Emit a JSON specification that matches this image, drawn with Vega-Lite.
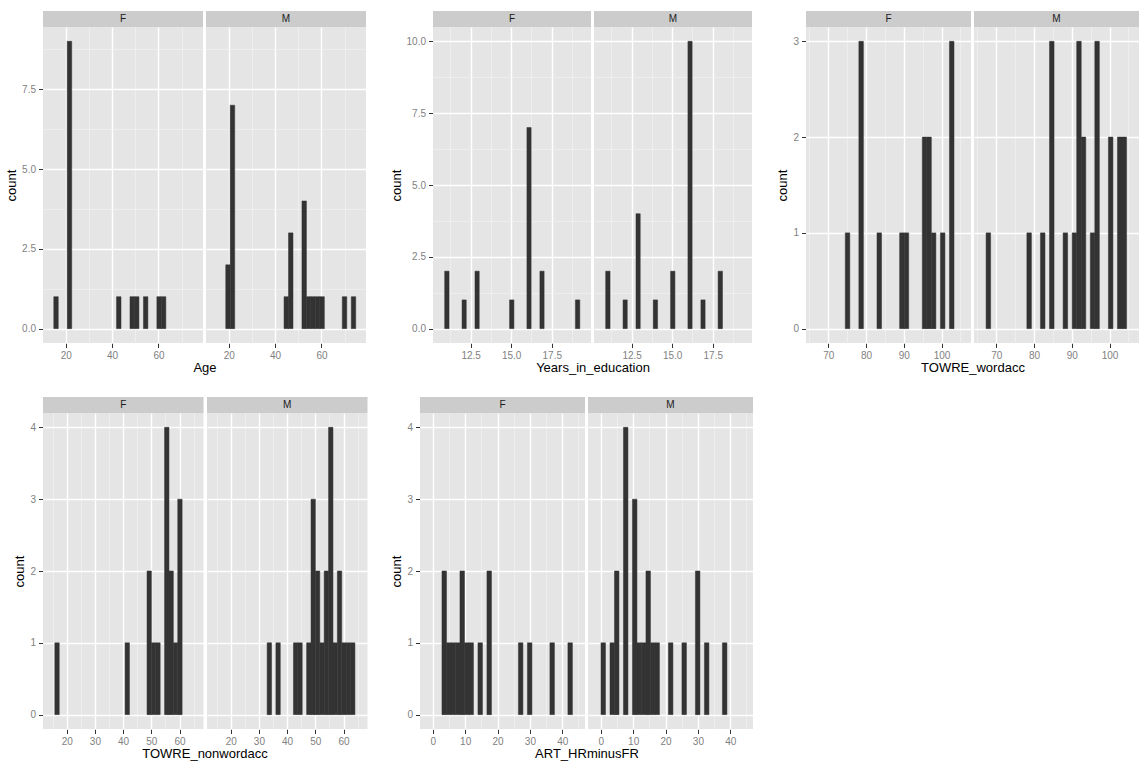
{
"$schema": "https://vega.github.io/schema/vega-lite/v6.json",
"padding": {"left": 5, "top": 11, "right": 0, "bottom": 0},
"background": "#FFFFFF",
"datasets": {
"strips": [{"sex": "F"}, {"sex": "M"}],
"bars": [
{"v":"Age","sex":"F","start":14.85,"end":16.78,"count":1},
{"v":"Age","sex":"F","start":20.65,"end":22.58,"count":9},
{"v":"Age","sex":"F","start":41.91,"end":43.85,"count":1},
{"v":"Age","sex":"F","start":47.71,"end":49.64,"count":1},
{"v":"Age","sex":"F","start":49.64,"end":51.58,"count":1},
{"v":"Age","sex":"F","start":53.51,"end":55.44,"count":1},
{"v":"Age","sex":"F","start":59.31,"end":61.24,"count":1},
{"v":"Age","sex":"F","start":61.24,"end":63.18,"count":1},
{"v":"Age","sex":"M","start":18.72,"end":20.65,"count":2},
{"v":"Age","sex":"M","start":20.65,"end":22.58,"count":7},
{"v":"Age","sex":"M","start":43.85,"end":45.78,"count":1},
{"v":"Age","sex":"M","start":45.78,"end":47.71,"count":3},
{"v":"Age","sex":"M","start":51.58,"end":53.51,"count":4},
{"v":"Age","sex":"M","start":53.51,"end":55.44,"count":1},
{"v":"Age","sex":"M","start":55.44,"end":57.38,"count":1},
{"v":"Age","sex":"M","start":57.38,"end":59.31,"count":1},
{"v":"Age","sex":"M","start":59.31,"end":61.24,"count":1},
{"v":"Age","sex":"M","start":68.97,"end":70.91,"count":1},
{"v":"Age","sex":"M","start":72.84,"end":74.77,"count":1},
{"v":"Years_in_education","sex":"F","start":10.9,"end":11.17,"count":2},
{"v":"Years_in_education","sex":"F","start":11.97,"end":12.23,"count":1},
{"v":"Years_in_education","sex":"F","start":12.77,"end":13.03,"count":2},
{"v":"Years_in_education","sex":"F","start":14.9,"end":15.17,"count":1},
{"v":"Years_in_education","sex":"F","start":15.97,"end":16.23,"count":7},
{"v":"Years_in_education","sex":"F","start":16.77,"end":17.03,"count":2},
{"v":"Years_in_education","sex":"F","start":18.96,"end":19.23,"count":1},
{"v":"Years_in_education","sex":"M","start":10.9,"end":11.17,"count":2},
{"v":"Years_in_education","sex":"M","start":11.97,"end":12.23,"count":1},
{"v":"Years_in_education","sex":"M","start":12.77,"end":13.03,"count":4},
{"v":"Years_in_education","sex":"M","start":13.83,"end":14.1,"count":1},
{"v":"Years_in_education","sex":"M","start":14.9,"end":15.17,"count":2},
{"v":"Years_in_education","sex":"M","start":15.97,"end":16.23,"count":10},
{"v":"Years_in_education","sex":"M","start":16.77,"end":17.03,"count":1},
{"v":"Years_in_education","sex":"M","start":17.83,"end":18.1,"count":2},
{"v":"TOWRE_wordacc","sex":"F","start":74.5,"end":75.7,"count":1},
{"v":"TOWRE_wordacc","sex":"F","start":78.1,"end":79.3,"count":3},
{"v":"TOWRE_wordacc","sex":"F","start":82.9,"end":84.1,"count":1},
{"v":"TOWRE_wordacc","sex":"F","start":88.9,"end":90.1,"count":1},
{"v":"TOWRE_wordacc","sex":"F","start":90.1,"end":91.3,"count":1},
{"v":"TOWRE_wordacc","sex":"F","start":94.9,"end":96.1,"count":2},
{"v":"TOWRE_wordacc","sex":"F","start":96.1,"end":97.3,"count":2},
{"v":"TOWRE_wordacc","sex":"F","start":97.3,"end":98.5,"count":1},
{"v":"TOWRE_wordacc","sex":"F","start":99.7,"end":100.9,"count":1},
{"v":"TOWRE_wordacc","sex":"F","start":102.1,"end":103.3,"count":3},
{"v":"TOWRE_wordacc","sex":"M","start":67.3,"end":68.5,"count":1},
{"v":"TOWRE_wordacc","sex":"M","start":78.1,"end":79.3,"count":1},
{"v":"TOWRE_wordacc","sex":"M","start":81.7,"end":82.9,"count":1},
{"v":"TOWRE_wordacc","sex":"M","start":84.1,"end":85.3,"count":3},
{"v":"TOWRE_wordacc","sex":"M","start":87.7,"end":88.9,"count":1},
{"v":"TOWRE_wordacc","sex":"M","start":90.1,"end":91.3,"count":1},
{"v":"TOWRE_wordacc","sex":"M","start":91.3,"end":92.5,"count":3},
{"v":"TOWRE_wordacc","sex":"M","start":92.5,"end":93.7,"count":2},
{"v":"TOWRE_wordacc","sex":"M","start":94.9,"end":96.1,"count":1},
{"v":"TOWRE_wordacc","sex":"M","start":96.1,"end":97.3,"count":3},
{"v":"TOWRE_wordacc","sex":"M","start":99.7,"end":100.9,"count":2},
{"v":"TOWRE_wordacc","sex":"M","start":102.1,"end":103.3,"count":2},
{"v":"TOWRE_wordacc","sex":"M","start":103.3,"end":104.5,"count":2},
{"v":"TOWRE_nonwordacc","sex":"F","start":15.8,"end":17.36,"count":1},
{"v":"TOWRE_nonwordacc","sex":"F","start":40.7,"end":42.25,"count":1},
{"v":"TOWRE_nonwordacc","sex":"F","start":48.48,"end":50.03,"count":2},
{"v":"TOWRE_nonwordacc","sex":"F","start":50.03,"end":51.59,"count":1},
{"v":"TOWRE_nonwordacc","sex":"F","start":51.59,"end":53.14,"count":1},
{"v":"TOWRE_nonwordacc","sex":"F","start":54.7,"end":56.26,"count":4},
{"v":"TOWRE_nonwordacc","sex":"F","start":56.26,"end":57.81,"count":2},
{"v":"TOWRE_nonwordacc","sex":"F","start":57.81,"end":59.37,"count":1},
{"v":"TOWRE_nonwordacc","sex":"F","start":59.37,"end":60.92,"count":3},
{"v":"TOWRE_nonwordacc","sex":"M","start":32.92,"end":34.47,"count":1},
{"v":"TOWRE_nonwordacc","sex":"M","start":36.03,"end":37.58,"count":1},
{"v":"TOWRE_nonwordacc","sex":"M","start":42.25,"end":43.81,"count":1},
{"v":"TOWRE_nonwordacc","sex":"M","start":43.81,"end":45.36,"count":1},
{"v":"TOWRE_nonwordacc","sex":"M","start":46.92,"end":48.48,"count":1},
{"v":"TOWRE_nonwordacc","sex":"M","start":48.48,"end":50.03,"count":3},
{"v":"TOWRE_nonwordacc","sex":"M","start":50.03,"end":51.59,"count":2},
{"v":"TOWRE_nonwordacc","sex":"M","start":51.59,"end":53.14,"count":1},
{"v":"TOWRE_nonwordacc","sex":"M","start":53.14,"end":54.7,"count":2},
{"v":"TOWRE_nonwordacc","sex":"M","start":54.7,"end":56.26,"count":4},
{"v":"TOWRE_nonwordacc","sex":"M","start":56.26,"end":57.81,"count":1},
{"v":"TOWRE_nonwordacc","sex":"M","start":57.81,"end":59.37,"count":2},
{"v":"TOWRE_nonwordacc","sex":"M","start":59.37,"end":60.92,"count":1},
{"v":"TOWRE_nonwordacc","sex":"M","start":60.92,"end":62.48,"count":1},
{"v":"TOWRE_nonwordacc","sex":"M","start":62.48,"end":64.04,"count":1},
{"v":"ART_HRminusFR","sex":"F","start":2.83,"end":4.22,"count":2},
{"v":"ART_HRminusFR","sex":"F","start":4.22,"end":5.61,"count":1},
{"v":"ART_HRminusFR","sex":"F","start":5.61,"end":7.0,"count":1},
{"v":"ART_HRminusFR","sex":"F","start":7.0,"end":8.39,"count":1},
{"v":"ART_HRminusFR","sex":"F","start":8.39,"end":9.78,"count":2},
{"v":"ART_HRminusFR","sex":"F","start":9.78,"end":11.17,"count":1},
{"v":"ART_HRminusFR","sex":"F","start":11.17,"end":12.56,"count":1},
{"v":"ART_HRminusFR","sex":"F","start":13.95,"end":15.34,"count":1},
{"v":"ART_HRminusFR","sex":"F","start":16.73,"end":18.12,"count":2},
{"v":"ART_HRminusFR","sex":"F","start":26.46,"end":27.85,"count":1},
{"v":"ART_HRminusFR","sex":"F","start":29.24,"end":30.63,"count":1},
{"v":"ART_HRminusFR","sex":"F","start":36.19,"end":37.58,"count":1},
{"v":"ART_HRminusFR","sex":"F","start":41.75,"end":43.14,"count":1},
{"v":"ART_HRminusFR","sex":"M","start":0.05,"end":1.44,"count":1},
{"v":"ART_HRminusFR","sex":"M","start":2.83,"end":4.22,"count":1},
{"v":"ART_HRminusFR","sex":"M","start":4.22,"end":5.61,"count":2},
{"v":"ART_HRminusFR","sex":"M","start":7.0,"end":8.39,"count":4},
{"v":"ART_HRminusFR","sex":"M","start":9.78,"end":11.17,"count":3},
{"v":"ART_HRminusFR","sex":"M","start":11.17,"end":12.56,"count":1},
{"v":"ART_HRminusFR","sex":"M","start":12.56,"end":13.95,"count":1},
{"v":"ART_HRminusFR","sex":"M","start":13.95,"end":15.34,"count":2},
{"v":"ART_HRminusFR","sex":"M","start":15.34,"end":16.73,"count":1},
{"v":"ART_HRminusFR","sex":"M","start":16.73,"end":18.12,"count":1},
{"v":"ART_HRminusFR","sex":"M","start":20.9,"end":22.29,"count":1},
{"v":"ART_HRminusFR","sex":"M","start":25.07,"end":26.46,"count":1},
{"v":"ART_HRminusFR","sex":"M","start":29.24,"end":30.63,"count":2},
{"v":"ART_HRminusFR","sex":"M","start":32.02,"end":33.41,"count":1},
{"v":"ART_HRminusFR","sex":"M","start":37.58,"end":38.97,"count":1}
]
},
"spacing": 22,
"vconcat": [
{"spacing": 24, "hconcat": [
{"spacing": 0, "vconcat": [
{"data": {"name": "strips"}, "facet": {"column": {"field": "sex", "type": "nominal", "header": null}}, "spacing": 3,
 "spec": {"width": 160, "height": 16, "view": {"fill": "#CCCCCC", "stroke": null}, "mark": {"type": "text", "fontSize": 10, "color": "#1A1A1A"}, "encoding": {"text": {"field": "sex", "type": "nominal"}}}},
{"data": {"name": "bars"}, "transform": [{"filter": "datum.v === 'Age'"}],
 "facet": {"column": {"field": "sex", "type": "nominal", "header": {"labels": false, "title": "Age", "titleOrient": "bottom", "titlePadding": -9}}}, "spacing": 3,
 "spec": {"width": 160, "height": 316, "mark": {"type": "rect", "color": "#333333", "stroke": "#333333", "strokeWidth": 0.5},
  "encoding": {
   "x": {"field": "start", "type": "quantitative", "scale": {"domain": [10.2, 79.2], "nice": false, "zero": false},
    "axis": {"title": null, "values": [20,30,40,50,60,70], "format": "d", "labelExpr": "datum.value % 20 === 0 ? datum.label : ''",
     "gridWidth": {"condition": {"test": "datum.value % 20 === 0", "value": 1.4}, "value": 0.7},
     "gridColor": {"condition": {"test": "datum.value % 20 === 0", "value": "#FFFFFF"}, "value": "#F2F2F2"},
     "tickOpacity": {"condition": {"test": "datum.value % 20 === 0", "value": 1}, "value": 0}}},
   "x2": {"field": "end"},
   "y": {"field": "count", "type": "quantitative", "scale": {"domain": [-0.45, 9.45], "nice": false, "zero": false},
    "axis": {"title": "count", "values": [0,1.25,2.5,3.75,5,6.25,7.5,8.75], "format": ".1f", "labelExpr": "datum.value % 2.5 === 0 ? datum.label : ''",
     "gridWidth": {"condition": {"test": "datum.value % 2.5 === 0", "value": 1.4}, "value": 0.7},
     "gridColor": {"condition": {"test": "datum.value % 2.5 === 0", "value": "#FFFFFF"}, "value": "#F2F2F2"},
     "tickOpacity": {"condition": {"test": "datum.value % 2.5 === 0", "value": 1}, "value": 0}}},
   "y2": {"datum": 0}
  }}}
]},
{"spacing": 0, "vconcat": [
{"data": {"name": "strips"}, "facet": {"column": {"field": "sex", "type": "nominal", "header": null}}, "spacing": 3,
 "spec": {"width": 158, "height": 16, "view": {"fill": "#CCCCCC", "stroke": null}, "mark": {"type": "text", "fontSize": 10, "color": "#1A1A1A"}, "encoding": {"text": {"field": "sex", "type": "nominal"}}}},
{"data": {"name": "bars"}, "transform": [{"filter": "datum.v === 'Years_in_education'"}],
 "facet": {"column": {"field": "sex", "type": "nominal", "header": {"labels": false, "title": "Years_in_education", "titleOrient": "bottom", "titlePadding": -9}}}, "spacing": 3,
 "spec": {"width": 158, "height": 316, "mark": {"type": "rect", "color": "#333333", "stroke": "#333333", "strokeWidth": 0.5},
  "encoding": {
   "x": {"field": "start", "type": "quantitative", "scale": {"domain": [10.18, 19.92], "nice": false, "zero": false},
    "axis": {"title": null, "values": [11.25,12.5,13.75,15,16.25,17.5,18.75], "format": ".1f", "labelExpr": "datum.value % 2.5 === 0 ? datum.label : ''",
     "gridWidth": {"condition": {"test": "datum.value % 2.5 === 0", "value": 1.4}, "value": 0.7},
     "gridColor": {"condition": {"test": "datum.value % 2.5 === 0", "value": "#FFFFFF"}, "value": "#F2F2F2"},
     "tickOpacity": {"condition": {"test": "datum.value % 2.5 === 0", "value": 1}, "value": 0}}},
   "x2": {"field": "end"},
   "y": {"field": "count", "type": "quantitative", "scale": {"domain": [-0.5, 10.5], "nice": false, "zero": false},
    "axis": {"title": "count", "values": [0,1.25,2.5,3.75,5,6.25,7.5,8.75,10], "format": ".1f", "labelExpr": "datum.value % 2.5 === 0 ? datum.label : ''",
     "gridWidth": {"condition": {"test": "datum.value % 2.5 === 0", "value": 1.4}, "value": 0.7},
     "gridColor": {"condition": {"test": "datum.value % 2.5 === 0", "value": "#FFFFFF"}, "value": "#F2F2F2"},
     "tickOpacity": {"condition": {"test": "datum.value % 2.5 === 0", "value": 1}, "value": 0}}},
   "y2": {"datum": 0}
  }}}
]},
{"spacing": 0, "vconcat": [
{"data": {"name": "strips"}, "facet": {"column": {"field": "sex", "type": "nominal", "header": null}}, "spacing": 3,
 "spec": {"width": 165, "height": 16, "view": {"fill": "#CCCCCC", "stroke": null}, "mark": {"type": "text", "fontSize": 10, "color": "#1A1A1A"}, "encoding": {"text": {"field": "sex", "type": "nominal"}}}},
{"data": {"name": "bars"}, "transform": [{"filter": "datum.v === 'TOWRE_wordacc'"}],
 "facet": {"column": {"field": "sex", "type": "nominal", "header": {"labels": false, "title": "TOWRE_wordacc", "titleOrient": "bottom", "titlePadding": -9}}}, "spacing": 3,
 "spec": {"width": 165, "height": 316, "mark": {"type": "rect", "color": "#333333", "stroke": "#333333", "strokeWidth": 0.5},
  "encoding": {
   "x": {"field": "start", "type": "quantitative", "scale": {"domain": [64.1, 107.8], "nice": false, "zero": false},
    "axis": {"title": null, "values": [65,70,75,80,85,90,95,100,105], "format": "d", "labelExpr": "datum.value % 10 === 0 ? datum.label : ''",
     "gridWidth": {"condition": {"test": "datum.value % 10 === 0", "value": 1.4}, "value": 0.7},
     "gridColor": {"condition": {"test": "datum.value % 10 === 0", "value": "#FFFFFF"}, "value": "#F2F2F2"},
     "tickOpacity": {"condition": {"test": "datum.value % 10 === 0", "value": 1}, "value": 0}}},
   "x2": {"field": "end"},
   "y": {"field": "count", "type": "quantitative", "scale": {"domain": [-0.15, 3.15], "nice": false, "zero": false},
    "axis": {"title": "count", "values": [0,0.5,1,1.5,2,2.5,3], "format": "d", "labelExpr": "datum.value % 1 === 0 ? datum.label : ''",
     "gridWidth": {"condition": {"test": "datum.value % 1 === 0", "value": 1.4}, "value": 0.7},
     "gridColor": {"condition": {"test": "datum.value % 1 === 0", "value": "#FFFFFF"}, "value": "#F2F2F2"},
     "tickOpacity": {"condition": {"test": "datum.value % 1 === 0", "value": 1}, "value": 0}}},
   "y2": {"datum": 0}
  }}}
]}
]},
{"spacing": 22, "hconcat": [
{"spacing": 0, "vconcat": [
{"data": {"name": "strips"}, "facet": {"column": {"field": "sex", "type": "nominal", "header": null}}, "spacing": 3,
 "spec": {"width": 160.5, "height": 16, "view": {"fill": "#CCCCCC", "stroke": null}, "mark": {"type": "text", "fontSize": 10, "color": "#1A1A1A"}, "encoding": {"text": {"field": "sex", "type": "nominal"}}}},
{"data": {"name": "bars"}, "transform": [{"filter": "datum.v === 'TOWRE_nonwordacc'"}],
 "facet": {"column": {"field": "sex", "type": "nominal", "header": {"labels": false, "title": "TOWRE_nonwordacc", "titleOrient": "bottom", "titlePadding": -9}}}, "spacing": 3,
 "spec": {"width": 160.5, "height": 316, "mark": {"type": "rect", "color": "#333333", "stroke": "#333333", "strokeWidth": 0.5},
  "encoding": {
   "x": {"field": "start", "type": "quantitative", "scale": {"domain": [11.6, 68.5], "nice": false, "zero": false},
    "axis": {"title": null, "values": [15,20,25,30,35,40,45,50,55,60,65], "format": "d", "labelExpr": "datum.value % 10 === 0 ? datum.label : ''",
     "gridWidth": {"condition": {"test": "datum.value % 10 === 0", "value": 1.4}, "value": 0.7},
     "gridColor": {"condition": {"test": "datum.value % 10 === 0", "value": "#FFFFFF"}, "value": "#F2F2F2"},
     "tickOpacity": {"condition": {"test": "datum.value % 10 === 0", "value": 1}, "value": 0}}},
   "x2": {"field": "end"},
   "y": {"field": "count", "type": "quantitative", "scale": {"domain": [-0.2, 4.2], "nice": false, "zero": false},
    "axis": {"title": "count", "values": [0,0.5,1,1.5,2,2.5,3,3.5,4], "format": "d", "labelExpr": "datum.value % 1 === 0 ? datum.label : ''",
     "gridWidth": {"condition": {"test": "datum.value % 1 === 0", "value": 1.4}, "value": 0.7},
     "gridColor": {"condition": {"test": "datum.value % 1 === 0", "value": "#FFFFFF"}, "value": "#F2F2F2"},
     "tickOpacity": {"condition": {"test": "datum.value % 1 === 0", "value": 1}, "value": 0}}},
   "y2": {"datum": 0}
  }}}
]},
{"spacing": 0, "vconcat": [
{"data": {"name": "strips"}, "facet": {"column": {"field": "sex", "type": "nominal", "header": null}}, "spacing": 3,
 "spec": {"width": 165, "height": 16, "view": {"fill": "#CCCCCC", "stroke": null}, "mark": {"type": "text", "fontSize": 10, "color": "#1A1A1A"}, "encoding": {"text": {"field": "sex", "type": "nominal"}}}},
{"data": {"name": "bars"}, "transform": [{"filter": "datum.v === 'ART_HRminusFR'"}],
 "facet": {"column": {"field": "sex", "type": "nominal", "header": {"labels": false, "title": "ART_HRminusFR", "titleOrient": "bottom", "titlePadding": -9}}}, "spacing": 3,
 "spec": {"width": 165, "height": 316, "mark": {"type": "rect", "color": "#333333", "stroke": "#333333", "strokeWidth": 0.5},
  "encoding": {
   "x": {"field": "start", "type": "quantitative", "scale": {"domain": [-3.96, 47.03], "nice": false, "zero": false},
    "axis": {"title": null, "values": [0,5,10,15,20,25,30,35,40,45], "format": "d", "labelExpr": "datum.value % 10 === 0 ? datum.label : ''",
     "gridWidth": {"condition": {"test": "datum.value % 10 === 0", "value": 1.4}, "value": 0.7},
     "gridColor": {"condition": {"test": "datum.value % 10 === 0", "value": "#FFFFFF"}, "value": "#F2F2F2"},
     "tickOpacity": {"condition": {"test": "datum.value % 10 === 0", "value": 1}, "value": 0}}},
   "x2": {"field": "end"},
   "y": {"field": "count", "type": "quantitative", "scale": {"domain": [-0.2, 4.2], "nice": false, "zero": false},
    "axis": {"title": "count", "values": [0,0.5,1,1.5,2,2.5,3,3.5,4], "format": "d", "labelExpr": "datum.value % 1 === 0 ? datum.label : ''",
     "gridWidth": {"condition": {"test": "datum.value % 1 === 0", "value": 1.4}, "value": 0.7},
     "gridColor": {"condition": {"test": "datum.value % 1 === 0", "value": "#FFFFFF"}, "value": "#F2F2F2"},
     "tickOpacity": {"condition": {"test": "datum.value % 1 === 0", "value": 1}, "value": 0}}},
   "y2": {"datum": 0}
  }}}
]}
]}
],
"config": {
 "font": "Liberation Sans",
 "view": {"fill": "#E5E5E5", "stroke": null},
 "axis": {"domain": false, "labelColor": "#7F7F7F", "labelFontSize": 10, "labelPadding": 3, "labelFlush": false, "labelOverlap": false, "tickColor": "#333333", "tickSize": 4.5, "tickWidth": 1, "titleFontSize": 13, "titleFontWeight": "normal", "titleColor": "#000000", "titlePadding": 3, "gridColor": "#FFFFFF"},
 "header": {"titleFontSize": 13, "titleFontWeight": "normal", "titleColor": "#000000"}
}
}
